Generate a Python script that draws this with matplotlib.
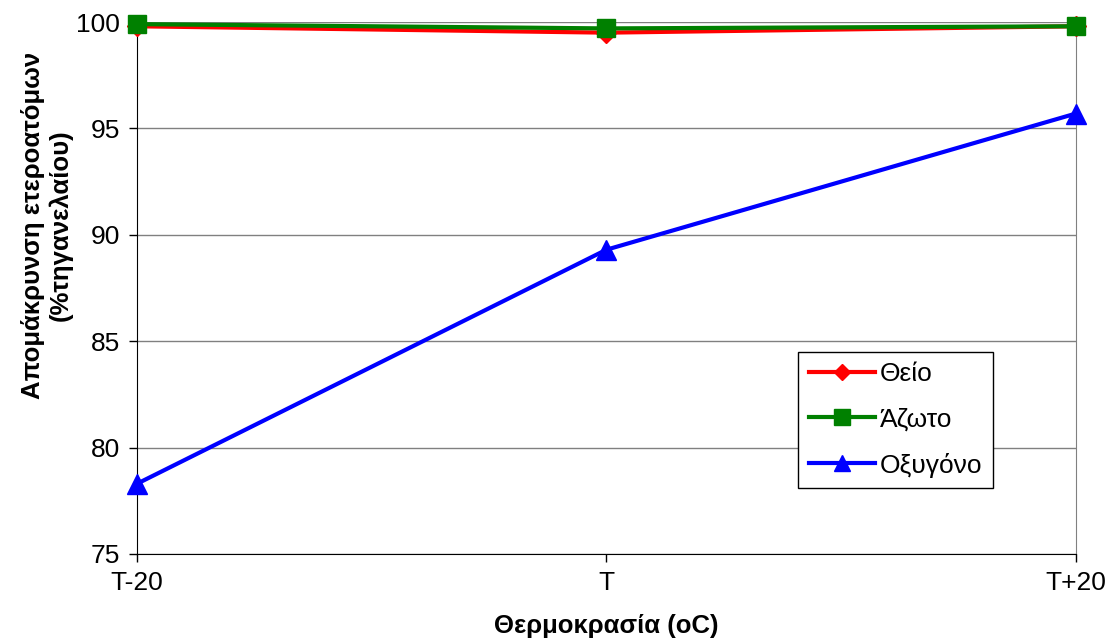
import matplotlib.pyplot as plt

plt.rcParams['font.family'] = ['Liberation Sans', 'DejaVu Sans']

categories = ["T-20", "T", "T+20"]
sulfur = [99.8, 99.5, 99.8]
nitrogen = [99.9, 99.7, 99.8]
oxygen = [78.3, 89.3, 95.7]
y_ticks = [75, 80, 85, 90, 95, 100]

fig = plt.figure(figsize=(11.08, 6.42), dpi=100)
ax = fig.add_axes([0.1236, 0.1371, 0.8475, 0.8286])

x = list(range(len(categories)))
ax.plot(x, oxygen, color='#0000FF', lw=3.0, marker='^', ms=14, label='Οξυγόνο', zorder=3, clip_on=False)
ax.plot(x, sulfur, color='#FF0000', lw=3.0, marker='D', ms=10, label='Θείο', zorder=4, clip_on=False)
ax.plot(x, nitrogen, color='#008000', lw=3.0, marker='s', ms=13, label='Άζωτο', zorder=5, clip_on=False)

ax.set_xlim(0, 2)
ax.set_ylim(75, 100)
ax.set_yticks(y_ticks)
ax.set_xticks(x)
ax.set_xticklabels(categories)
ax.tick_params(axis='both', labelsize=19, direction='out', length=6, width=1, pad=6)
ax.yaxis.grid(True, color='#808080', lw=1)
ax.set_axisbelow(True)

ax.spines['left'].set_color('black')
ax.spines['bottom'].set_color('black')
ax.spines['top'].set_visible(False)
ax.spines['right'].set_color('#808080')

ax.set_xlabel('Θερμοκρασία (oC)', fontsize=18.5, fontweight='bold', labelpad=14)
ax.set_ylabel('Απομάκρυνση ετεροατόμων\n(%τηγανελαίου)', fontsize=18.5, fontweight='bold',
              linespacing=1.2)
ax.yaxis.set_label_coords(-0.068, 0.618)

handles, labels = ax.get_legend_handles_labels()
order = [1, 2, 0]
leg = ax.legend([handles[i] for i in order], [labels[i] for i in order],
                loc='upper left', bbox_to_anchor=(0.704, 0.380), borderaxespad=0,
                fontsize=19, frameon=True, fancybox=False, edgecolor='black', framealpha=1,
                handlelength=2.5, handletextpad=0.2, borderpad=0.4, labelspacing=0.8,
                markerscale=0.85)
leg.get_frame().set_linewidth(1)

fig.savefig('out.png', dpi=100)
